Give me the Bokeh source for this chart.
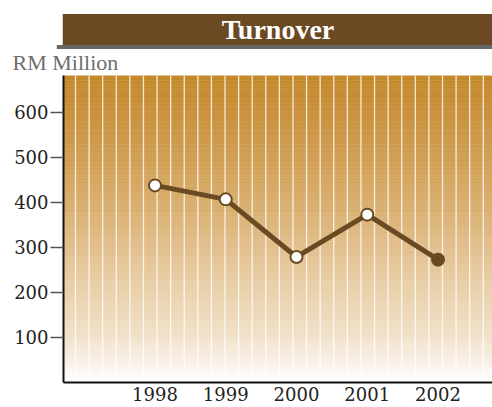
import numpy as np
from bokeh.plotting import figure
from bokeh.models import Range1d, FixedTicker, Title
from bokeh.embed import file_html
from bokeh.resources import INLINE

# ---- data ----
years = [1998, 1999, 2000, 2001, 2002]
turnover = [438, 407, 279, 373, 273]
y_ticks = [100, 200, 300, 400, 500, 600]
title_text = "Turnover"
unit_text = "RM Million"

BROWN = "#6B4A23"
SERIF = "DejaVu Serif"

# ---- geometry (canvas pixels) ----
W, H = 492, 407
FL, FR, FT, FB = 63, 492, 75, 382     # frame left/right/top/bottom
x0, x1 = 1996.707, 2002.77
y0, y1 = 0, 682.2


def px_x(px):
    return x0 + (px - FL) / (FR - FL) * (x1 - x0)


p = figure(width=W, height=H, output_backend="svg", toolbar_location=None,
           title_location=None,
           x_range=Range1d(x0, x1), y_range=Range1d(y0, y1),
           min_border_left=FL, min_border_right=W - FR, min_border_top=FT,
           min_border_bottom=H - FB)
p.outline_line_color = None
p.grid.visible = False
p.background_fill_color = "white"
p.border_fill_color = "white"

# unit label (closest to the frame)
unit = Title(text=unit_text, align="left", offset=12 - FL, standoff=2,
             text_font="Liberation Serif", text_font_size="22px",
             text_font_style="normal", text_color="#6E6E6E")
p.add_layout(unit, "above")

# thin shadow strip under the title bar
shadow = Title(text=title_text, align="center", offset=17.5, standoff=-4.8,
               text_font="Liberation Serif", text_font_size="3.6px",
               text_color="#666666", background_fill_color="#666666",
               padding=(214, 0))
p.add_layout(shadow, "above")

# title bar
bar = Title(text=title_text, align="center", standoff=0.8,
            text_font="Liberation Serif", text_font_style="bold",
            text_font_size="28px", text_color="white",
            background_fill_color=BROWN, padding=(159, 0))
p.add_layout(bar, "above")

# vertical gradient background (value -> colour stops)
stops_v = [y0, 22, 45, 100, 200, 300, 400, 500, y1]
stops_c = ["#FFFFFF", "#FDFBF8", "#F9F1E6", "#F2E2CB", "#EAD2AC", "#E2C08E",
           "#D9AE6D", "#D19E54", "#C4882A"]
rgb = np.array([[int(c[i:i + 2], 16) for i in (1, 3, 5)] for c in stops_c], float)
edges = np.linspace(y0, y1, 121)
mids = (edges[:-1] + edges[1:]) / 2
cols = []
for m in mids:
    r = np.interp(m, stops_v, rgb[:, 0])
    g = np.interp(m, stops_v, rgb[:, 1])
    b = np.interp(m, stops_v, rgb[:, 2])
    cols.append("#%02x%02x%02x" % (int(round(r)), int(round(g)), int(round(b))))
p.quad(left=x0, right=x1, bottom=edges[:-1], top=edges[1:], fill_color=cols,
       line_color=cols, line_width=0.6)

# vertical stripes
step = 0.1921
stripes = np.arange(px_x(75), x1, step)
p.segment(x0=stripes, y0=y0, x1=stripes, y1=y1, line_color="white",
          line_width=1.3, line_alpha=0.8)

# series
p.line(years, turnover, line_color=BROWN, line_width=5)
p.scatter(years[:-1], turnover[:-1], size=12, fill_color="white",
          line_color=BROWN, line_width=2)
p.scatter(years[-1:], turnover[-1:], size=12, fill_color=BROWN,
          line_color=BROWN, line_width=2)

# axes
yax = p.yaxis[0]
yax.ticker = FixedTicker(ticks=y_ticks)
yax.major_tick_out = 13
yax.major_tick_in = 0
yax.minor_tick_line_color = None
yax.major_tick_line_color = "#555555"
yax.major_tick_line_width = 1.5
yax.axis_line_color = "#111111"
yax.axis_line_width = 2
yax.major_label_text_font = SERIF
yax.major_label_text_font_size = "18px"
yax.major_label_text_color = "#222222"
yax.major_label_standoff = 2

xax = p.xaxis[0]
xax.ticker = FixedTicker(ticks=years)
xax.major_tick_out = 0
xax.major_tick_in = 0
xax.minor_tick_line_color = None
xax.major_tick_line_color = None
xax.axis_line_color = "#111111"
xax.axis_line_width = 2
xax.major_label_text_font = SERIF
xax.major_label_text_font_size = "18px"
xax.major_label_text_color = "#222222"
xax.major_label_standoff = 4

open("out.html", "w").write(file_html(p, INLINE))
